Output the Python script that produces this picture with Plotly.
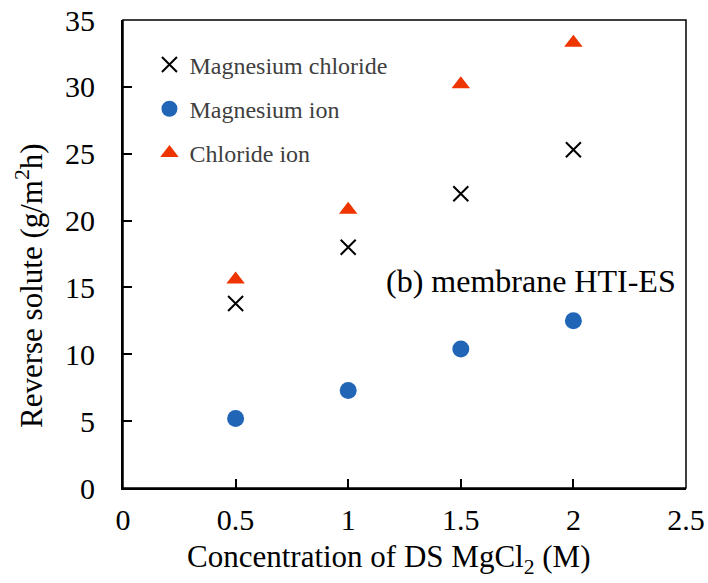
import plotly.graph_objects as go

conc = [0.5, 1.0, 1.5, 2.0]
mgcl2 = [13.8, 18.0, 22.0, 25.3]
mg_ion = [5.2, 7.3, 10.4, 12.5]
cl_ion = [15.6, 20.8, 30.2, 33.3]

FONT = "Liberation Serif, Times New Roman, serif"

fig = go.Figure()
fig.add_trace(go.Scatter(x=conc, y=mgcl2, mode="markers", name="Magnesium chloride",
                         legendgroup="a",
                         marker=dict(symbol="x-thin", size=15, line=dict(width=2, color="black"), color="black")))
fig.add_trace(go.Scatter(x=conc, y=mg_ion, mode="markers", name="Magnesium ion",
                         legendgroup="b",
                         marker=dict(symbol="circle", size=17, color="#2166B6")))
fig.add_trace(go.Scatter(x=conc, y=cl_ion, mode="markers", name="Chloride ion",
                         legendgroup="c",
                         marker=dict(symbol="triangle-up", size=16, color="#EE3500")))

fig.update_layout(
    width=708, height=583,
    margin=dict(l=123, r=22, t=20, b=95),
    paper_bgcolor="white", plot_bgcolor="white",
    font=dict(family=FONT, color="black"),
    showlegend=True,
    legend=dict(x=0.047, y=0.952, xanchor="left", yanchor="top",
                font=dict(size=24, color="#404040", family=FONT),
                bgcolor="rgba(0,0,0,0)", tracegroupgap=10, traceorder="grouped",
                itemwidth=30),
    xaxis=dict(range=[0, 2.5], dtick=0.5, tick0=0, showgrid=False, zeroline=False,
               showline=True, linecolor="black", linewidth=2, automargin=False,
               ticks="inside", ticklen=9, tickwidth=2, tickcolor="black",
               ticklabelstandoff=4,
               tickfont=dict(size=30, family=FONT)),
    yaxis=dict(range=[0, 35], dtick=5, tick0=0, showgrid=False, zeroline=False,
               showline=True, linecolor="black", linewidth=2, automargin=False,
               ticks="inside", ticklen=9, tickwidth=2, tickcolor="black",
               ticklabelstandoff=20,
               tickfont=dict(size=30, family=FONT)),
    shapes=[dict(type="rect", xref="paper", yref="paper", x0=0, y0=0, x1=1, y1=1,
                 line=dict(color="black", width=1.5))],
    annotations=[
        dict(text="(b) membrane HTI-ES", x=1.81, y=15.5, xref="x", yref="y",
             xanchor="center", yanchor="middle", showarrow=False,
             font=dict(size=32, family=FONT, color="black")),
        dict(text="Concentration of DS MgCl<sub>2</sub> (M)", x=(388 - 123) / 563, y=-(559 - 488) / 468,
             xref="paper", yref="paper", xanchor="center", yanchor="middle", showarrow=False,
             font=dict(size=31, family=FONT, color="black")),
        dict(text="Reverse solute (g/m<sup>2</sup>h)", x=-(123 - 29) / 563, y=(488 - 286) / 468,
             xref="paper", yref="paper", xanchor="center", yanchor="middle", showarrow=False,
             textangle=-90,
             font=dict(size=31, family=FONT, color="black")),
    ],
)

fig.write_html("out.html")
